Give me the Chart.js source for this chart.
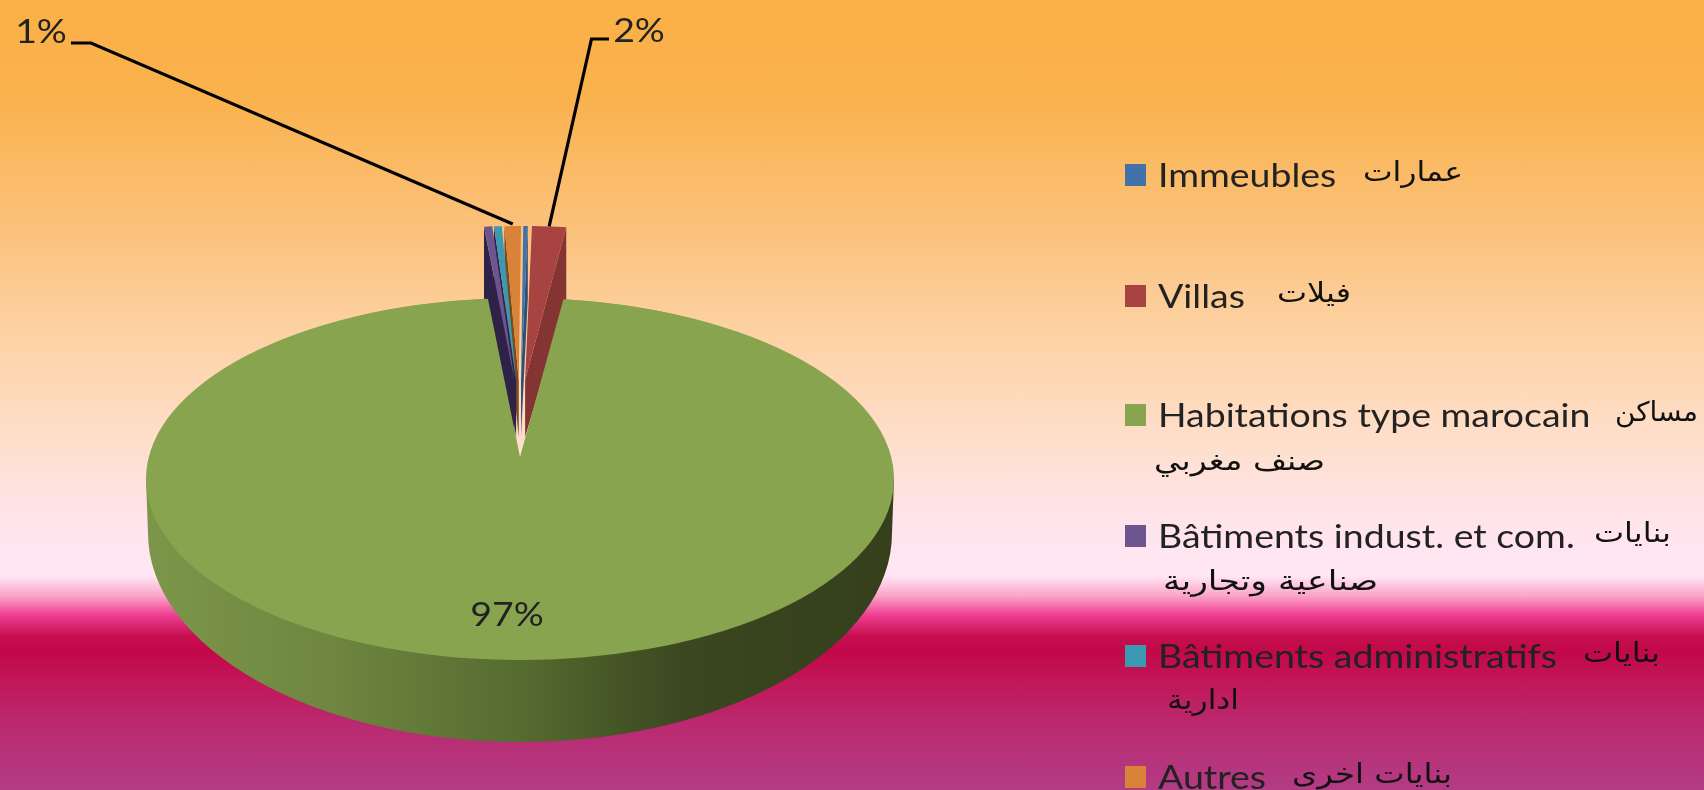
<!DOCTYPE html>
<html>
<head>
<meta charset="utf-8">
<title>Répartition des constructions</title>
<script src="https://cdn.jsdelivr.net/npm/chart.js@4"></script>
<style>
  html, body { margin: 0; padding: 0; width: 1704px; height: 790px; overflow: hidden; }
  body {
    background: linear-gradient(to bottom,
      #fab046 0px, #fab24e 100px, #fbc078 220px, #fdd3a6 340px, #fee0cf 450px,
      #ffe4ee 530px, #ffe6f2 576px, #fba3c9 596px, #ee3f92 615px, #c50f50 636px,
      #c20848 652px, #c21455 675px, #ba2a70 725px, #b23c84 790px);
  }
  canvas { display: block; filter: blur(0.6px); }
</style>
</head>
<body>
<canvas id="pieChart" width="1704" height="790"></canvas>
<script>
const categories = ['Immeubles', 'Villas', 'Habitations type marocain', 'Bâtiments indust. et com.', 'Bâtiments administratifs', 'Autres'];
const categoriesAr = ['عمارات', 'فيلات', 'مساكن', 'بنايات', 'بنايات', 'بنايات اخرى'];
const categoriesAr2 = ['', '', 'صنف مغربي', 'صناعية وتجارية', 'ادارية', ''];
const shares = [0.22, 1.66, 96.54, 0.4, 0.38, 0.8];
const colors = ['#4272a8', '#a74442', '#88a44e', '#6d5590', '#3b9ab2', '#d98338'];
const wallColors = ['#2f5078', '#843533', '#5c7034', '#2e2248', '#2e2248', '#7a4a20'];

// where everything sits on the page
const BIG_SLICE = 2;
const top1 = { x: 520, y: 479, rx: 374, ry: 181 };     // big slice, main ellipse
const top2 = { x: 520, y: 457, rx: 348, ry: 159 };     // same slice again, moves the tip up
const base = { x: 520, y: 533, rx: 372, ry: 209 };
const small = { x: 520, y: 380, rx: 330, ry: 154, rimDepth: 72, tipDepth: 57, pull: 70 };

const latinFont = '33px Lato';
const latinStretch = 1.135;
const arabicFont = '27px "DejaVu Sans"';
const legendRows = [175, 296, 415, 536, 656, 777];
const latinX = 1158;
const arabicSpan = [[1363, 1463], [1277, 1351], [1615, 1698], [1594, 1671], [1583, 1660], [1292, 1452]];
const arabic2Span = [null, null, [1154, 1325], [1163, 1378], [1167, 1239], null];
const arabic2Y = [0, 0, 463, 583, 702, 0];
const percentSpots = { 1: [639, 31], 2: [507, 615], 5: [41, 32] };

function smallCenter(arc) {
  const mid = (arc.startAngle + arc.endAngle) / 2 + Math.PI / 2;
  return { x: small.x + Math.sin(mid) * small.pull, y: small.y };
}

function drawArcAt(ctx, arc, box) {
  const k = arc.outerRadius;
  ctx.save();
  ctx.translate(box.x, box.y);
  ctx.scale(box.rx / k, box.ry / k);
  ctx.translate(-arc.x, -arc.y);
  arc.draw(ctx);
  ctx.restore();
}

function edgePoint(c, angle) {
  return { x: c.x + Math.cos(angle) * small.rx, y: c.y + Math.sin(angle) * small.ry };
}

// the text in the picture is wider than any font we have, so stretch it sideways
function wideText(ctx, text, x, y, stretch) {
  ctx.save();
  ctx.translate(x, y);
  ctx.scale(stretch, 1);
  ctx.fillText(text, 0, 0);
  ctx.restore();
}

function arabicText(ctx, text, span, y) {
  ctx.direction = 'rtl';
  ctx.textAlign = 'right';
  ctx.font = arabicFont;
  const width = ctx.measureText(text).width;
  wideText(ctx, text, span[1], y, (span[1] - span[0]) / width);
}

const pie3d = {
  id: 'pie3d',
  beforeDatasetsDraw(chart) {
    const ctx = chart.ctx;
    const arcs = chart.getDatasetMeta(0).data;

    // green side wall
    const wall = ctx.createLinearGradient(base.x - base.rx, 0, base.x + base.rx, 0);
    wall.addColorStop(0, '#7c9649');
    wall.addColorStop(0.25, '#6e8640');
    wall.addColorStop(0.5, '#566b30');
    wall.addColorStop(0.72, '#3a4720');
    wall.addColorStop(1, '#353f1c');
    ctx.fillStyle = wall;
    ctx.beginPath();
    ctx.moveTo(top1.x - top1.rx, top1.y);
    ctx.lineTo(base.x - base.rx, base.y);
    ctx.ellipse(base.x, base.y, base.rx, base.ry, 0, Math.PI, 0, true);
    ctx.lineTo(top1.x + top1.rx, top1.y);
    ctx.closePath();
    ctx.fill();

    // the pulled out slices: cut faces first, tops after
    const rest = [5, 4, 3, 0, 1];
    rest.forEach(i => {
      const c = smallCenter(arcs[i]);
      const angle = i < BIG_SLICE ? arcs[i].endAngle : arcs[i].startAngle;
      const p = edgePoint(c, angle);
      ctx.fillStyle = wallColors[i];
      ctx.beginPath();
      ctx.moveTo(p.x, p.y);
      ctx.lineTo(c.x, c.y);
      ctx.lineTo(c.x, c.y + small.tipDepth);
      ctx.lineTo(p.x, p.y + small.rimDepth);
      ctx.closePath();
      ctx.fill();
    });
    rest.forEach(i => drawArcAt(ctx, arcs[i], { ...small, ...smallCenter(arcs[i]) }));

    drawArcAt(ctx, arcs[BIG_SLICE], top1);
    drawArcAt(ctx, arcs[BIG_SLICE], top2);
    return false;
  },
  afterDraw(chart) {
    const ctx = chart.ctx;
    const arcs = chart.getDatasetMeta(0).data;
    ctx.save();

    // leader lines
    ctx.strokeStyle = '#000';
    ctx.lineWidth = 3.2;
    const tipA = edgePoint(smallCenter(arcs[5]), (arcs[5].startAngle + arcs[5].endAngle) / 2);
    const tipB = edgePoint(smallCenter(arcs[1]), (arcs[1].startAngle + arcs[1].endAngle) / 2);
    ctx.beginPath();
    ctx.moveTo(71, 43);
    ctx.lineTo(91, 43);
    ctx.lineTo(tipA.x, tipA.y - 2);
    ctx.moveTo(609, 39);
    ctx.lineTo(591.5, 39);
    ctx.lineTo(tipB.x, tipB.y);
    ctx.stroke();

    // percent labels
    ctx.fillStyle = '#222';
    ctx.font = latinFont;
    ctx.textAlign = 'center';
    ctx.textBaseline = 'middle';
    Object.keys(percentSpots).forEach(i => {
      const [x, y] = percentSpots[i];
      wideText(ctx, Math.round(shares[i]) + '%', x, y, latinStretch);
    });

    // legend
    categories.forEach((name, i) => {
      const y = legendRows[i];
      ctx.fillStyle = colors[i];
      ctx.fillRect(1125, y - 11, 21, 22);
      ctx.fillStyle = '#222';
      ctx.font = latinFont;
      ctx.textAlign = 'left';
      ctx.direction = 'ltr';
      wideText(ctx, name, latinX, y + 1.5, latinStretch);
      ctx.fillStyle = '#111';
      arabicText(ctx, categoriesAr[i], arabicSpan[i], y - 1);
      if (categoriesAr2[i]) {
        arabicText(ctx, categoriesAr2[i], arabic2Span[i], arabic2Y[i]);
      }
    });
    ctx.restore();
  }
};

new Chart(document.getElementById('pieChart').getContext('2d'), {
  type: 'pie',
  data: {
    labels: categories,
    datasets: [{ data: shares, backgroundColor: colors, borderWidth: 0 }]
  },
  options: {
    responsive: false,
    animation: false,
    rotation: 0.4,
    plugins: {
      legend: { display: false },
      tooltip: { enabled: false }
    }
  },
  plugins: [pie3d]
});
</script>
</body>
</html>
